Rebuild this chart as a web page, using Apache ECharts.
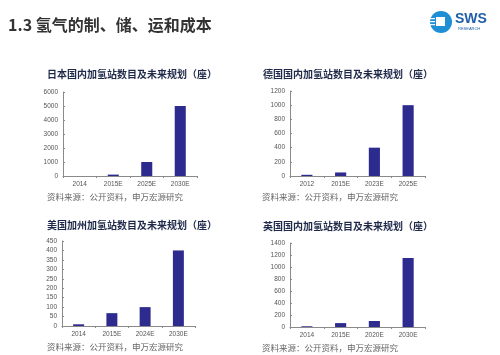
<!DOCTYPE html>
<html lang="zh">
<head>
<meta charset="utf-8">
<script src="https://cdn.jsdelivr.net/npm/echarts@6/dist/echarts.min.js"></script>
<style>
  html, body { margin: 0; padding: 0; background: #fff; }
  #main { width: 500px; height: 355px; }
</style>
</head>
<body>
<div id="main"></div>
<script>
// data
var jpCats = ['2014', '2015E', '2025E', '2030E'];
var jpVals = [0, 100, 1000, 5000];
var deCats = ['2012', '2015E', '2023E', '2025E'];
var deVals = [17, 50, 400, 1000];
var caCats = ['2014', '2015E', '2024E', '2030E'];
var caVals = [9, 68, 100, 400];
var ukCats = ['2014', '2015E', '2020E', '2030E'];
var ukVals = [12, 65, 100, 1150];

var chartTitles = ['日本国内加氢站数目及未来规划（座）', '德国国内加氢站数目及未来规划（座）',
                   '美国加州加氢站数目及未来规划（座）', '英国国内加氢站数目及未来规划（座）'];
var source = '资料来源：公开资料，申万宏源研究';

var barColor = '#2d2c8e';
var axisColor = '#8a8a8a';

var chart = echarts.init(document.getElementById('main'));

// plot boxes: left, top, width, height
var boxes = [
  [63, 92, 134, 84],
  [290, 91, 135, 85],
  [62, 241, 133, 85],
  [290, 243, 135, 84]
];
var yMax = [6000, 1200, 450, 1400];
var yStep = [1000, 200, 50, 200];
var cats = [jpCats, deCats, caCats, ukCats];
var vals = [jpVals, deVals, caVals, ukVals];
var titlePos = [[132, 69], [348, 69], [132, 220], [348, 221]];
var srcPos = [[47, 193], [262, 193], [47, 343], [262, 344]];

var grids = [], xAxes = [], yAxes = [], series = [], titles = [];
for (var i = 0; i < 4; i++) {
  var b = boxes[i];
  grids.push({ left: b[0], top: b[1], width: b[2], height: b[3], containLabel: false });
  xAxes.push({
    type: 'category', gridIndex: i, data: cats[i],
    axisLine: { lineStyle: { color: axisColor, width: 1 } },
    axisTick: { show: true, alignWithLabel: false, length: 2, lineStyle: { color: axisColor } },
    axisLabel: { color: '#555', fontSize: 6.5, margin: 5, fontFamily: 'Liberation Sans' }
  });
  yAxes.push({
    type: 'value', gridIndex: i, min: 0, max: yMax[i], interval: yStep[i],
    splitLine: { show: false },
    axisLine: { show: true, lineStyle: { color: axisColor, width: 1 } },
    axisTick: { show: true, inside: true, length: 2, lineStyle: { color: axisColor } },
    axisLabel: { color: '#555', fontSize: 6.5, margin: 5, fontFamily: 'Liberation Sans',
                 formatter: function (v) { return String(v); } }
  });
  series.push({
    type: 'bar', xAxisIndex: i, yAxisIndex: i, data: vals[i],
    barWidth: '33%', itemStyle: { color: barColor }, silent: true
  });
  titles.push({
    text: chartTitles[i], left: titlePos[i][0], top: titlePos[i][1], textAlign: 'center', padding: 0,
    textStyle: { fontSize: 10, fontWeight: 'bold', color: '#1f2a4a', fontFamily: 'Noto Sans CJK SC' }
  });
  titles.push({
    text: source, left: srcPos[i][0], top: srcPos[i][1], padding: 0,
    textStyle: { fontSize: 8.5, fontWeight: 'normal', color: '#666', fontFamily: 'Noto Sans CJK SC' }
  });
}

titles.push({
  text: '1.3 氢气的制、储、运和成本', left: 8, top: 17, padding: 0,
  textStyle: { fontSize: 16, fontWeight: 'bold', color: '#333', fontFamily: 'Noto Sans CJK SC' }
});

chart.setOption({
  animation: false,
  backgroundColor: '#fff',
  title: titles,
  grid: grids,
  xAxis: xAxes,
  yAxis: yAxes,
  series: series,
  graphic: [
    { type: 'circle', shape: { cx: 441, cy: 22, r: 11 }, style: { fill: '#1e8fd6' } },
    { type: 'rect', shape: { x: 436, y: 17, width: 9, height: 9 }, style: { fill: '#fff' } },
    { type: 'rect', shape: { x: 430, y: 18, width: 5, height: 1.2 }, style: { fill: '#fff' } },
    { type: 'rect', shape: { x: 430, y: 21, width: 5, height: 1.2 }, style: { fill: '#fff' } },
    { type: 'rect', shape: { x: 430, y: 24, width: 5, height: 1.2 }, style: { fill: '#fff' } },
    { type: 'text', left: 455, top: 12, style: { text: 'SWS', fill: '#1f5fa8', font: 'bold 14px Liberation Sans' } },
    { type: 'text', left: 458, top: 27, style: { text: 'RESEARCH', fill: '#1f5fa8', font: '4px Liberation Sans' } }
  ]
});
</script>
</body>
</html>
